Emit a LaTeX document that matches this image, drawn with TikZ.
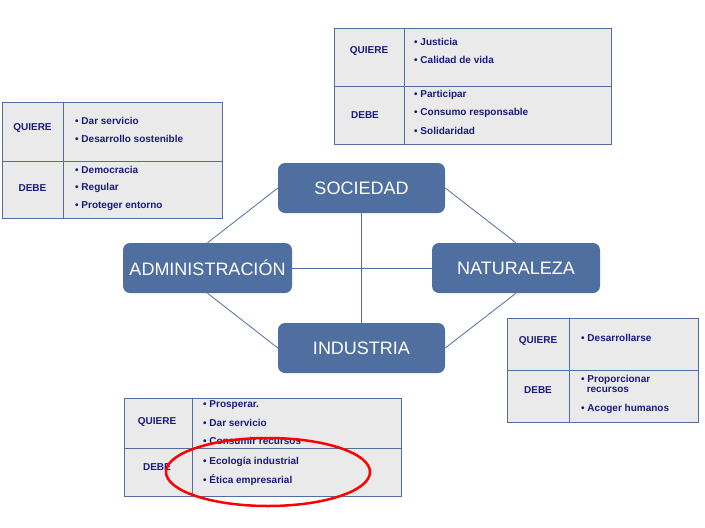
\documentclass[tikz,border=0pt]{standalone}
\usepackage{fontspec}
\setmainfont{Liberation Sans}
\usetikzlibrary{shapes.geometric}
\begin{document}
\definecolor{bl}{HTML}{4F6FA0}
\definecolor{tx}{HTML}{1A1A80}
\definecolor{gf}{HTML}{EAEAEA}
\begin{tikzpicture}[x=1pt,y=-1pt,
  hub/.style={draw=none,fill=bl,rounded corners=7pt,text=white,font=\fontsize{18}{20}\selectfont,inner sep=0pt},
  cell/.style={draw=bl,fill=gf,line width=0.8pt},
  lab/.style={text=tx,font=\bfseries\fontsize{10}{12}\selectfont,inner sep=0pt},
  it/.style={text=tx,font=\bfseries\fontsize{10}{12}\selectfont,inner sep=0pt,anchor=west,align=left},
  con/.style={draw=bl,line width=0.8pt}]
\useasboundingbox (0,0) rectangle (705,528);
% hubs
\node[hub,minimum width=167pt,minimum height=50pt] (soc) at (361.5,188) {SOCIEDAD};
\node[hub,minimum width=169pt,minimum height=50pt] (adm) at (207.5,268) {ADMINISTRACIÓN};
\node[hub,minimum width=168pt,minimum height=50pt] (nat) at (516,268) {NATURALEZA};
\node[hub,minimum width=167pt,minimum height=50pt] (ind) at (361.5,348) {INDUSTRIA};
% tables
\foreach \x/\y/\X/\Y/\cx/\ry in {2/102/222/218/63/161, 334/28/611/144/404/86, 507/318/698/422/569/370, 124/398/401/496/192/448}{
  \draw[cell] (\x,\y) rectangle (\X,\Y);
  \draw[cell] (\cx,\y) -- (\cx,\Y) (\x,\ry) -- (\X,\ry);
}
\node[lab] (q1) at (32.5,128) {QUIERE};
\node[lab] (d1) at (32.5,188) {DEBE};
\node[it] (a1) at (75,121) {• Dar servicio};
\node[it] (a2) at (75,139) {• Desarrollo sostenible};
\node[it] (a3) at (75,170) {• Democracia};
\node[it] (a4) at (75,188) {• Regular};
\node[it] (a5) at (75,206) {• Proteger entorno};
\node[lab] (q2) at (369,51) {QUIERE};
\node[lab] (d2) at (365,115) {DEBE};
\node[it] (b1) at (414,42) {• Justicia};
\node[it] (b2) at (414,60) {• Calidad de vida};
\node[it] (b3) at (414,95) {• Participar};
\node[it] (b4) at (414,113) {• Consumo responsable};
\node[it] (b5) at (414,131) {• Solidaridad};
\node[lab] (q3) at (538,341) {QUIERE};
\node[lab] (d3) at (538,390) {DEBE};
\node[it] (e1) at (581,338) {• Desarrollarse};
\node[it,align=left] (e2) at (581,384) {• Proporcionar\\[-2pt]\ \ recursos};
\node[it] (e3) at (581,409) {• Acoger humanos};
\node[lab] (q4) at (157,422) {QUIERE};
\node[lab] (d4) at (157,467) {DEBE};
\node[it] (f1) at (203,405) {• Prosperar.};
\node[it] (f2) at (203,423) {• Dar servicio};
\node[it] (f3) at (203,441) {• Consumir recursos};
\node[it] (f4) at (203,462) {• Ecología industrial};
\node[it] (f5) at (203,480) {• Ética empresarial};
% connectors
\draw[con] (soc.south) -- (ind.north);
\draw[con] (adm.east) -- (nat.west);
\draw[con] (soc.west) -- (adm.north);
\draw[con] (soc.east) -- (nat.north);
\draw[con] (nat.south) -- (ind.east);
\draw[con] (ind.west) -- (adm.south);
% ellipse
\node[draw=red,line width=2.5pt,ellipse,minimum width=204pt,minimum height=68pt,inner sep=0pt] (el) at (268,472) {};
\end{tikzpicture}
\end{document}
